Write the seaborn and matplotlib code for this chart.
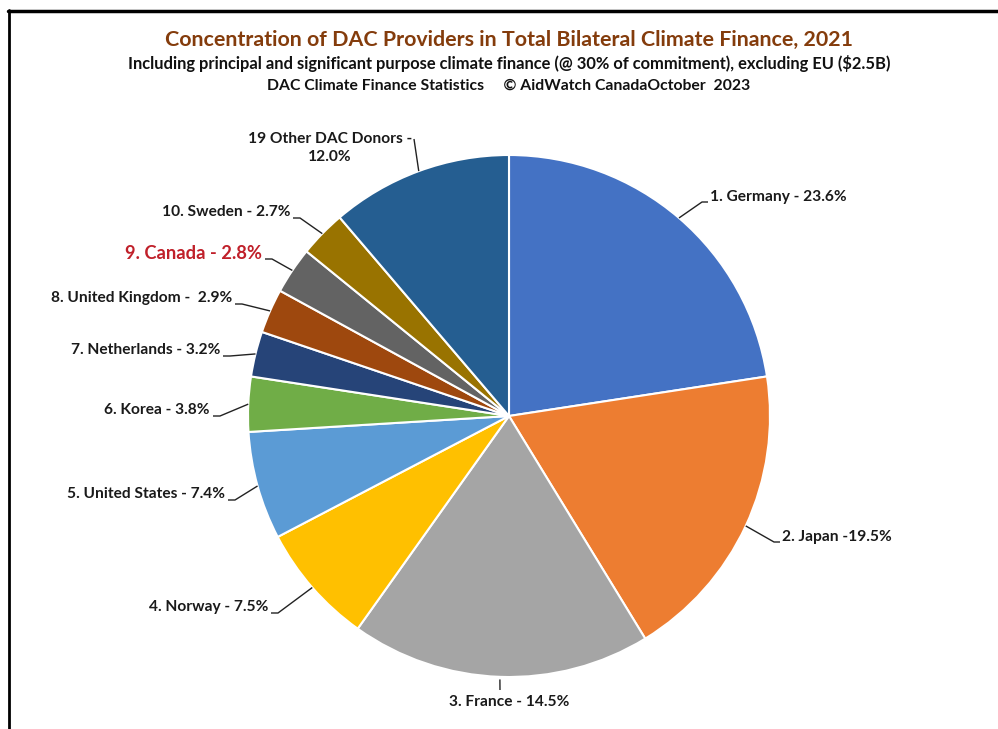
import matplotlib
matplotlib.use("Agg")
import matplotlib.pyplot as plt
import seaborn as sns
import numpy as np
from matplotlib.lines import Line2D

# ---- data ----
donors = ["Germany", "Japan", "France", "Norway", "United States", "Korea",
          "Netherlands", "United Kingdom", "Canada", "Sweden", "19 Other DAC Donors"]
# shares as stated in the labels
label_pct = [23.6, 19.5, 14.5, 7.5, 7.4, 3.8, 3.2, 2.9, 2.8, 2.7, 12.0]
# slice sizes as drawn in the picture (measured wedge angles, %)
slice_share = [22.6, 18.7, 18.6, 7.5, 6.7, 3.4, 2.8, 2.75, 2.9, 2.9, 11.25]
labels = ["1. Germany - 23.6%", "2. Japan -19.5%", "3. France - 14.5%",
          "4. Norway - 7.5%", "5. United States - 7.4%", "6. Korea - 3.8%",
          "7. Netherlands - 3.2%", "8. United Kingdom -  2.9%", "9. Canada - 2.8%",
          "10. Sweden - 2.7%", "19 Other DAC Donors -\n12.0%"]
colors = ["#4472C4", "#ED7D31", "#A5A5A5", "#FFC000", "#5B9BD5", "#70AD47",
          "#264478", "#9E480E", "#636363", "#997300", "#255E91"]

title = "Concentration of DAC Providers in Total Bilateral Climate Finance, 2021"
sub1 = "Including principal and significant purpose climate finance (@ 30% of commitment), excluding EU ($2.5B)"
sub2 = "DAC Climate Finance Statistics     \u00a9 AidWatch CanadaOctober  2023"

sns.set_theme(style="white")
plt.rcParams['font.family'] = ['Lato', 'DejaVu Sans']

W, H = 998, 729
CX, CY, R = 509, 416, 261

fig = plt.figure(figsize=(W / 100, H / 100), dpi=100)
fig.patch.set_facecolor("white")
ax = fig.add_axes([0, 0, 1, 1])

def px(x, y):
    return ((x - CX) / R, (CY - y) / R)

wedges, _ = ax.pie(slice_share, colors=colors, startangle=90, counterclock=False,
                   radius=1.0, wedgeprops=dict(edgecolor="white", linewidth=1.5))
ax.set_xlim(px(0, 0)[0], px(W, 0)[0])
ax.set_ylim(px(0, H)[1], px(0, 0)[1])
ax.set_aspect("equal", adjustable="box")
ax.axis("off")

# label layout: (x, y, ha) in pixels
layout = [
    (710, 197, "left"),
    (782, 537, "left"),
    (509, 702, "center"),
    (268, 607, "right"),
    (225, 494, "right"),
    (210, 410, "right"),
    (220, 350, "right"),
    (232, 298, "right"),
    (262, 253, "right"),
    (290, 212, "right"),
    (330, 148, "center"),
]

for i, (w, lab) in enumerate(zip(wedges, labels)):
    mid = np.deg2rad((w.theta1 + w.theta2) / 2)
    ex, ey = np.cos(mid), np.sin(mid)
    x, y, ha = layout[i]
    is_can = donors[i] == "Canada"
    col = "#C0202A" if is_can else "#1a1a1a"
    fs = 13.2 if is_can else 11.2
    tx, ty = px(x, y)
    ax.text(tx, ty, lab, ha=ha, va="center", fontsize=fs, fontweight="bold",
            color=col, multialignment="center", linespacing=1.45)
    # leader line
    if ha == "left":
        kx, ky = px(x - 8, y + 5)
        hx = px(x - 2, y + 5)[0]
        xs, ys = [ex, kx, hx], [ey, ky, ky]
    elif ha == "right":
        kx, ky = px(x + 10, y + 6)
        hx = px(x + 3, y + 6)[0]
        xs, ys = [ex, kx, hx], [ey, ky, ky]
    else:
        if y > CY:
            kx, ky = px(CX + R * ex, y - 12)
            xs, ys = [ex * 1.01, ex], [ey * 1.01, ky]
        else:
            kx, ky = px(x + 84, y - 9)
            xs, ys = [ex, kx], [ey, ky]
    ax.plot(xs, ys, color="#222222", linewidth=1.0, solid_capstyle="butt")

TX = 509 / W
fig.text(TX, 1 - 40 / H, title, ha="center", va="center", fontsize=15.4,
         fontweight="bold", color="#843C0C")
fig.text(TX, 1 - 64 / H, sub1, ha="center", va="center", fontsize=11.9,
         fontweight="bold", color="#111111")
fig.text(TX, 1 - 86 / H, sub2, ha="center", va="center", fontsize=11.3,
         fontweight="bold", color="#111111")

# frame
fig.add_artist(Line2D([8 / W, 1], [1 - 11 / H, 1 - 11 / H], color="black", linewidth=2.5,
                      transform=fig.transFigure))
fig.add_artist(Line2D([9 / W, 9 / W], [1 - 10 / H, 0], color="black", linewidth=2.0,
                      transform=fig.transFigure))

fig.savefig("out.png", dpi=100, facecolor="white")
